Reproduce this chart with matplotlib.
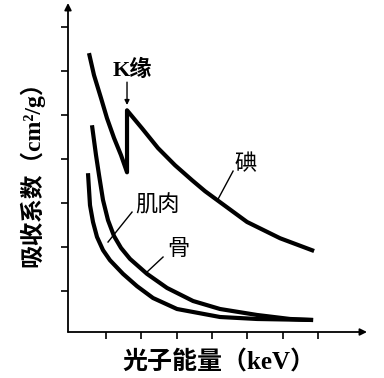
import matplotlib
matplotlib.use("Agg")
import matplotlib.pyplot as plt

# ---- data (arbitrary units) ----
iodine_pre_x = [0.518, 0.660, 0.858, 1.028, 1.227, 1.425, 1.595]
iodine_pre_y = [6.41, 5.91, 5.39, 4.93, 4.48, 4.09, 3.70]
iodine_post_x = [1.595, 2.020, 2.473, 2.955, 3.436, 3.805, 4.229, 4.994, 5.929, 6.892]
iodine_post_y = [5.11, 4.70, 4.25, 3.86, 3.52, 3.27, 3.02, 2.57, 2.20, 1.91]
bone_x = [0.603, 0.717, 0.802, 0.915, 1.057, 1.227, 1.425, 1.680, 2.161, 2.728,
          3.465, 4.229, 5.278, 6.212, 6.864]
bone_y = [4.77, 4.09, 3.64, 3.07, 2.61, 2.25, 1.98, 1.73, 1.39, 1.07,
          0.773, 0.591, 0.455, 0.364, 0.341]
muscle_x = [0.490, 0.547, 0.632, 0.745, 0.915, 1.113, 1.482, 1.878, 2.331, 3.011,
            4.229, 5.278, 6.864]
muscle_y = [3.68, 2.95, 2.57, 2.23, 1.93, 1.70, 1.39, 1.11, 0.841, 0.591,
            0.409, 0.364, 0.341]
x_ticks = [1, 2, 3, 4, 5, 6, 7]
y_ticks = [1, 2, 3, 4, 5, 6, 7]

FAM = ['Liberation Serif', 'Noto Sans CJK SC', 'DejaVu Sans']

fig = plt.figure(figsize=(3.84, 3.78), dpi=100)
ax = fig.add_axes([68/384, 46/378, 299/384, 329/378])
ax.set_xlim(-0.076, 8.39)
ax.set_ylim(0.068, 7.55)
for s in ax.spines.values():
    s.set_visible(False)
ax.set_xticks(x_ticks)
ax.set_yticks(y_ticks)
ax.tick_params(direction='out', length=5, width=1.2, labelbottom=False, labelleft=False)

# axis arrows
arr = dict(arrowstyle='-|>', lw=1.3, color='k', mutation_scale=10, shrinkA=0, shrinkB=0)
ax.annotate('', xy=(0, 1), xytext=(0, 0), xycoords='axes fraction', arrowprops=arr)
ax.annotate('', xy=(1, 0), xytext=(0, 0), xycoords='axes fraction', arrowprops=arr)

lw = 3.0
ax.plot(iodine_pre_x + iodine_post_x, iodine_pre_y + iodine_post_y, color='k', lw=lw,
        solid_capstyle='butt', solid_joinstyle='round')
ax.plot(bone_x, bone_y, color='k', lw=lw, solid_capstyle='butt', solid_joinstyle='round')
ax.plot(muscle_x, muscle_y, color='k', lw=lw, solid_capstyle='butt', solid_joinstyle='round')

# labels and leaders
ax.text(1.737, 6.02, 'K缘', family=FAM, fontsize=16, fontweight='bold', ha='center', va='center')
ax.annotate('', xy=(1.595, 5.23), xytext=(1.595, 5.75),
            arrowprops=dict(arrowstyle='-|>', lw=1.0, color='k', mutation_scale=7, shrinkA=0, shrinkB=0))
ax.text(4.966, 3.86, '碘', family=FAM, fontsize=16, ha='center', va='center')
ax.plot([4.598, 4.173], [3.727, 3.09], color='k', lw=1.0)
ax.text(2.445, 2.93, '肌肉', family=FAM, fontsize=16, ha='center', va='center')
ax.plot([1.737, 1.057], [2.795, 2.114], color='k', lw=1.0)
ax.text(3.04, 1.93, '骨', family=FAM, fontsize=16, ha='center', va='center')
ax.plot([2.615, 2.161], [1.773, 1.432], color='k', lw=1.0)

fig.text(219/384, 1 - 362/378, '光子能量（keV）', family=FAM, fontsize=18,
         fontweight='bold', ha='center', va='center')
fig.text(32/384, 1 - 168/378, '吸收系数（cm²/g）', family=FAM, fontsize=17,
         fontweight='bold', ha='center', va='center', rotation=90)

fig.savefig('out.png', dpi=100)
